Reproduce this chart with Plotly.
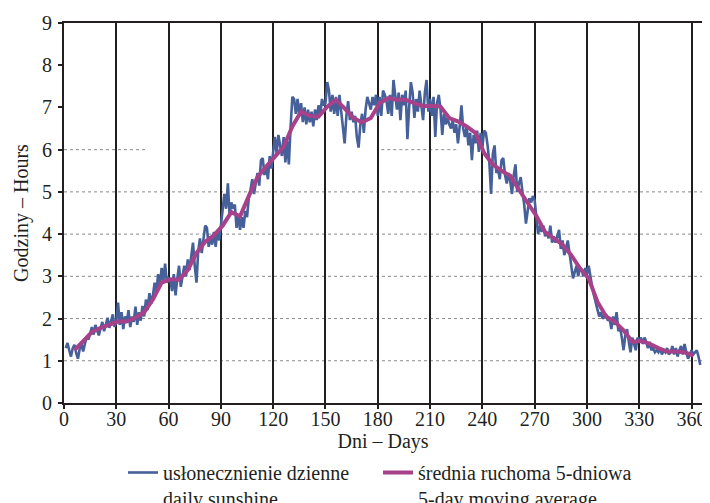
import plotly.graph_objects as go

# Daily sunshine (hours), days 1..365
daily_jan = [1.30, 1.42, 1.25, 1.10, 1.30, 1.38, 1.18, 1.05, 1.28, 1.40,
             1.22, 1.45, 1.58, 1.50, 1.68, 1.80, 1.62, 1.85, 1.72, 1.60,
             1.78, 1.92, 1.70, 1.88, 2.02, 1.78, 1.92, 2.10, 1.80, 1.95]
daily_feb = [2.38, 1.85, 2.15, 1.75, 2.05, 1.90, 2.20, 1.80, 2.05, 1.92,
             2.28, 1.85, 2.15, 1.95, 2.30, 2.05, 2.45, 2.20, 2.60, 2.35,
             2.55, 2.85, 2.60, 3.05, 2.75, 3.20, 2.90, 3.30, 2.85, 2.95]
daily_mar = [2.90, 2.65, 3.05, 2.55, 2.95, 3.25, 2.75, 3.05, 3.25, 3.00,
             3.40, 3.15, 3.55, 3.80, 3.25, 2.85, 3.60, 3.90, 3.55, 3.95,
             4.20, 4.15, 3.70, 3.95, 3.75, 4.05, 3.70, 4.10, 3.85, 4.20]
daily_apr = [4.55, 4.95, 4.60, 5.20, 4.45, 4.75, 4.60, 4.70, 4.15, 4.45,
             4.10, 4.40, 4.15, 4.55, 4.40, 4.85, 5.05, 5.30, 4.95, 5.25,
             5.45, 5.15, 5.75, 5.80, 5.40, 5.60, 5.30, 5.85, 5.55, 5.95]
daily_may = [6.30, 5.90, 6.35, 6.10, 5.85, 6.30, 5.70, 6.20, 5.65, 6.55,
             7.25, 7.20, 6.85, 7.20, 6.80, 7.10, 6.65, 7.00, 6.60, 6.95,
             6.65, 6.90, 6.55, 6.95, 6.70, 7.05, 6.85, 7.20, 7.05, 7.10]
daily_jun = [7.60, 7.40, 6.90, 7.30, 6.85, 7.25, 6.80, 7.30, 6.90, 6.50,
             6.15, 6.80, 7.15, 6.70, 6.90, 6.65, 6.80, 6.30, 6.05, 6.60,
             6.85, 6.40, 6.95, 7.25, 7.10, 6.95, 7.25, 7.05, 7.30, 6.80]
daily_jul = [7.25, 6.80, 7.40, 7.30, 7.15, 6.85, 7.30, 6.80, 7.65, 7.30,
             6.95, 7.35, 6.70, 7.30, 7.05, 7.40, 6.25, 7.00, 7.60, 7.35,
             6.75, 7.20, 6.90, 7.40, 7.05, 6.70, 7.35, 7.65, 6.90, 7.20]
daily_aug = [6.80, 7.25, 6.30, 7.10, 7.30, 6.95, 6.35, 6.85, 6.60, 6.75,
             6.60, 6.50, 6.70, 6.40, 6.60, 6.15, 6.55, 7.05, 6.50, 6.30,
             6.55, 6.10, 6.40, 5.75, 6.35, 6.15, 6.45, 5.95, 6.40, 6.05]
daily_sep = [6.45, 6.40, 6.10, 5.70, 4.95, 5.90, 6.10, 5.45, 5.55, 5.30,
             5.75, 5.80, 5.40, 5.20, 5.45, 5.25, 4.95, 5.40, 5.65, 5.00,
             5.20, 5.35, 5.00, 4.70, 4.25, 4.60, 4.85, 4.75, 4.90, 4.80]
daily_oct = [4.35, 4.00, 4.20, 4.05, 4.20, 3.95, 4.05, 3.90, 4.20, 3.80,
             3.95, 3.80, 3.95, 4.10, 3.65, 3.85, 3.50, 3.70, 3.85, 3.55,
             3.20, 2.95, 3.10, 3.25, 3.00, 3.20, 3.15, 3.00, 3.20, 3.05]
daily_nov = [3.25, 2.95, 2.75, 2.55, 2.40, 2.20, 2.05, 2.15, 2.00, 2.05,
             2.10, 1.95, 2.00, 1.75, 2.05, 1.85, 2.15, 1.70, 1.80, 1.55,
             1.25, 1.60, 1.75, 1.45, 1.20, 1.55, 1.40, 1.25, 1.55, 1.45]
daily_dec = [1.55, 1.40, 1.55, 1.45, 1.30, 1.45, 1.25, 1.30, 1.20, 1.25,
             1.20, 1.30, 1.15, 1.25, 1.20, 1.30, 1.15, 1.20, 1.35, 1.15,
             1.30, 1.10, 1.25, 1.35, 1.15, 1.40, 1.20, 1.05, 1.15, 1.25,
             1.15, 1.20, 1.25, 1.10, 0.90]

daily_values = (daily_jan + daily_feb + daily_mar + daily_apr + daily_may +
                daily_jun + daily_jul + daily_aug + daily_sep + daily_oct +
                daily_nov + daily_dec)
daily_days = list(range(1, len(daily_values) + 1))

ma_days = list(range(6, 362, 5))
ma_values = [1.25, 1.45, 1.68, 1.78, 1.85, 1.93, 1.93, 2.02, 2.15, 2.45,
             2.85, 2.93, 2.92, 3.15, 3.55, 3.82, 3.97, 4.20, 4.52, 4.42,
             4.90, 5.35, 5.60, 5.85, 6.07, 6.55, 6.90, 6.80, 6.78, 7.02,
             7.18, 6.98, 6.75, 6.65, 6.75, 7.10, 7.22, 7.18, 7.18, 7.10,
             7.03, 7.04, 7.02, 6.75, 6.67, 6.55, 6.40, 5.92, 5.65, 5.50,
             5.38, 5.05, 4.75, 4.43, 4.05, 3.90, 3.75, 3.50, 3.19, 2.95,
             2.40, 2.05, 1.92, 1.72, 1.45, 1.47, 1.40, 1.30, 1.22, 1.22,
             1.20, 1.12]

x_ticks = list(range(0, 361, 30))
y_ticks = list(range(0, 10))
full_grid_levels = [1, 2, 3, 4, 5]
partial_grid_6 = [(0, 47.5), (182, 225)]

name_daily = "usłonecznienie dzienne<br>daily sunshine"
name_ma = "średnia ruchoma 5-dniowa<br>5-day moving average"

FONT = "Liberation Serif, Times New Roman, serif"
BLUE = "#46609A"
MAGENTA = "#A6418A"
INK = "#231f20"

# the page body adds an 8px margin, so the figure is laid out 8px smaller
W, H = 702, 495

fig = go.Figure()
fig.add_trace(go.Scatter(x=daily_days, y=daily_values, mode="lines",
                         line=dict(color=BLUE, width=2.6), name=name_daily))
fig.add_trace(go.Scatter(x=ma_days, y=ma_values, mode="lines",
                         line=dict(color=MAGENTA, width=4), name=name_ma))

shapes = []
for lv in full_grid_levels:
    shapes.append(dict(type="line", xref="x", yref="y", x0=0, x1=366, y0=lv, y1=lv,
                       line=dict(color="#8a8a8a", width=1, dash="dot"), layer="below"))
for a, b in partial_grid_6:
    shapes.append(dict(type="line", xref="x", yref="y", x0=a, x1=b, y0=6, y1=6,
                       line=dict(color="#8a8a8a", width=1, dash="dot"), layer="below"))

fig.update_layout(
    width=W, height=H,
    margin=dict(l=56, r=8, t=15, b=100, autoexpand=False),
    paper_bgcolor="white", plot_bgcolor="white",
    font=dict(family=FONT, size=20, color=INK),
    shapes=shapes,
    showlegend=True,
    legend=dict(orientation="h", xref="container", yref="container",
                x=0.5 + 19 / W, xanchor="center", y=1 - 445 / H, yanchor="top",
                valign="top", font=dict(family=FONT, size=20, color=INK),
                bgcolor="rgba(0,0,0,0)", tracegroupgap=0, itemwidth=30,
                entrywidth=210),
)
fig.update_xaxes(range=[0, 366], tickvals=x_ticks, ticks="outside", ticklen=4,
                 tickcolor=INK, tickwidth=1.5, automargin=False,
                 showline=True, linecolor=INK, linewidth=2, mirror=True,
                 showgrid=True, gridcolor=INK, gridwidth=1.5,
                 zeroline=False, tickfont=dict(size=20), ticklabelstandoff=-7,
                 title=dict(text="Dni – Days", font=dict(size=20), standoff=13))
fig.update_yaxes(range=[0, 9], tickvals=y_ticks, ticks="outside", ticklen=4,
                 tickcolor=INK, tickwidth=1.5, automargin=False,
                 showline=True, linecolor=INK, linewidth=2, mirror=True,
                 showgrid=False, zeroline=False, tickfont=dict(size=20),
                 ticklabelstandoff=2,
                 title=dict(text="Godziny – Hours", font=dict(size=20), standoff=8))

fig.write_html("out.html")
